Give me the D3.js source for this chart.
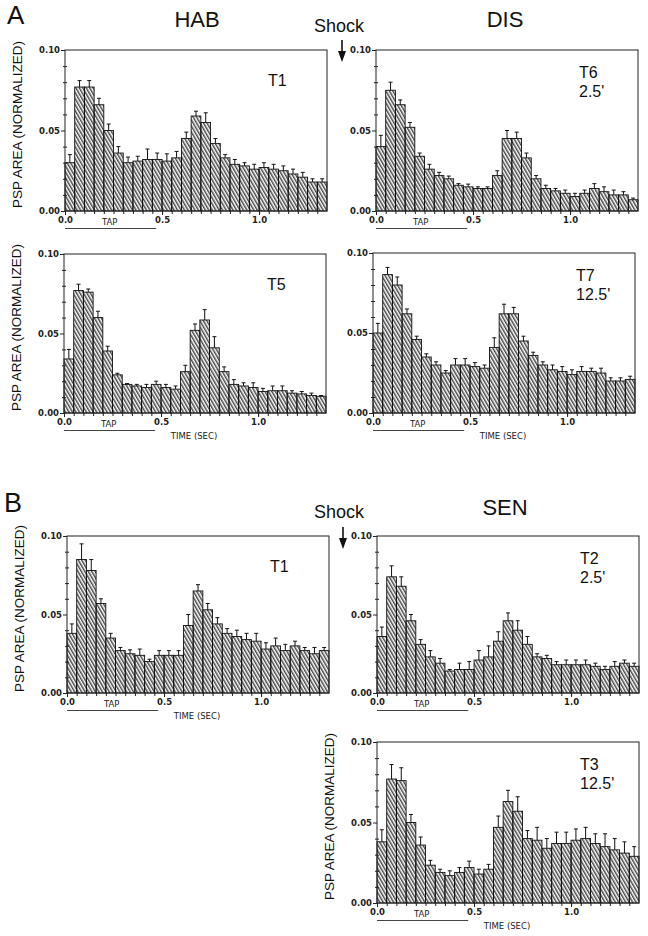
<!DOCTYPE html>
<html>
<head>
<meta charset="utf-8">
<script src="https://cdn.jsdelivr.net/npm/d3@7"></script>
<style>
  body { margin: 0; background: #fff; }
  svg { display: block; }
</style>
</head>
<body>
<div id="chart"></div>
<script>
// Time bins (start of each 50 ms bin, in sec)
var binStart = [0.00,0.05,0.10,0.15,0.20,0.25,0.30,0.35,0.40,0.45,0.50,0.55,0.60,0.65,
                0.70,0.75,0.80,0.85,0.90,0.95,1.00,1.05,1.10,1.15,1.20,1.25,1.30];
var binWidth = 0.05;
var xTicks = [0.0, 0.5, 1.0];
var yTicks = [0.00, 0.05, 0.10];
var yMinorTicks = [0.01,0.02,0.03,0.04,0.06,0.07,0.08,0.09];

// A - HAB, T1
var habA_T1 = [0.030,0.077,0.077,0.066,0.050,0.036,0.030,0.031,0.032,0.032,0.031,0.033,0.045,0.059,
               0.055,0.042,0.033,0.029,0.028,0.026,0.027,0.026,0.025,0.023,0.021,0.018,0.018];
var habA_T1_se = [0.005,0.004,0.004,0.004,0.004,0.004,0.0035,0.003,0.0065,0.004,0.0045,0.004,0.004,0.003,
                  0.006,0.003,0.002,0.003,0.002,0.003,0.003,0.003,0.003,0.003,0.003,0.002,0.002];
// A - DIS, T6 (2.5')
var disA_T6 = [0.040,0.075,0.066,0.052,0.034,0.026,0.022,0.020,0.016,0.015,0.014,0.014,0.022,0.045,
               0.045,0.033,0.020,0.014,0.0125,0.011,0.009,0.011,0.014,0.012,0.010,0.010,0.007];
var disA_T6_se = [0.007,0.005,0.003,0.003,0.002,0.003,0.002,0.0017,0.001,0.0017,0.001,0.001,0.003,0.005,
                  0.004,0.003,0.002,0.002,0.0015,0.002,0.002,0.002,0.003,0.003,0.003,0.002,0.001];
// A - HAB, T5
var habA_T5 = [0.034,0.077,0.076,0.060,0.039,0.024,0.018,0.017,0.016,0.018,0.016,0.015,0.026,0.052,
               0.0585,0.041,0.026,0.018,0.017,0.016,0.0135,0.014,0.014,0.0125,0.012,0.011,0.0105];
var habA_T5_se = [0.006,0.004,0.002,0.004,0.003,0.001,0.0005,0.001,0.002,0.002,0.002,0.002,0.004,0.004,
                  0.0065,0.007,0.003,0.003,0.002,0.003,0.002,0.003,0.003,0.0015,0.0015,0.0015,0.0005];
// A - DIS, T7 (12.5')
var disA_T7 = [0.050,0.0865,0.080,0.062,0.046,0.035,0.030,0.025,0.030,0.030,0.029,0.028,0.041,0.062,
               0.062,0.045,0.036,0.030,0.027,0.026,0.024,0.026,0.026,0.025,0.020,0.020,0.021];
var disA_T7_se = [0.006,0.0045,0.005,0.003,0.002,0.002,0.002,0.0015,0.004,0.004,0.0025,0.002,0.006,0.006,
                  0.004,0.003,0.002,0.002,0.003,0.003,0.003,0.003,0.002,0.003,0.002,0.002,0.002];
// B - HAB, T1
var habB_T1 = [0.038,0.085,0.078,0.057,0.035,0.027,0.025,0.024,0.020,0.024,0.024,0.024,0.043,0.065,
               0.053,0.044,0.038,0.036,0.034,0.033,0.028,0.030,0.027,0.030,0.027,0.025,0.027];
var habB_T1_se = [0.006,0.010,0.007,0.003,0.003,0.002,0.0025,0.004,0.0015,0.003,0.003,0.003,0.007,0.004,
                  0.004,0.004,0.003,0.004,0.004,0.005,0.004,0.005,0.004,0.003,0.002,0.004,0.002];
// B - SEN, T2 (2.5')
var senB_T2 = [0.036,0.074,0.068,0.046,0.031,0.023,0.019,0.014,0.015,0.015,0.021,0.023,0.033,0.046,
               0.040,0.031,0.023,0.022,0.018,0.018,0.018,0.018,0.017,0.015,0.017,0.019,0.017];
var senB_T2_se = [0.006,0.007,0.006,0.004,0.003,0.004,0.003,0.001,0.004,0.005,0.006,0.007,0.006,0.005,
                  0.006,0.005,0.002,0.002,0.002,0.003,0.003,0.003,0.002,0.002,0.003,0.002,0.002];
// B - SEN, T3 (12.5')
var senB_T3 = [0.038,0.077,0.076,0.050,0.036,0.0235,0.019,0.017,0.019,0.022,0.018,0.021,0.047,0.063,
               0.057,0.040,0.039,0.034,0.037,0.037,0.039,0.040,0.037,0.035,0.033,0.031,0.029];
var senB_T3_se = [0.0075,0.009,0.008,0.005,0.005,0.003,0.002,0.003,0.003,0.004,0.003,0.003,0.007,0.007,
                  0.009,0.005,0.008,0.006,0.007,0.007,0.007,0.007,0.006,0.008,0.007,0.007,0.006];

// panel placement
var panels = [
  {vals: habA_T1, se: habA_T1_se, x: 65,  y: 50,  w: 262, h: 161, tag: ["T1"],          yLab: true,  timeLab: false},
  {vals: disA_T6, se: disA_T6_se, x: 376, y: 50,  w: 262, h: 161, tag: ["T6", "2.5'"],  yLab: false, timeLab: false},
  {vals: habA_T5, se: habA_T5_se, x: 64,  y: 254, w: 262, h: 159, tag: ["T5"],          yLab: true,  timeLab: true},
  {vals: disA_T7, se: disA_T7_se, x: 373, y: 253, w: 262, h: 160, tag: ["T7", "12.5'"], yLab: false, timeLab: true},
  {vals: habB_T1, se: habB_T1_se, x: 67,  y: 536, w: 262, h: 157, tag: ["T1"],          yLab: true,  timeLab: true},
  {vals: senB_T2, se: senB_T2_se, x: 377, y: 536, w: 262, h: 157, tag: ["T2", "2.5'"],  yLab: false, timeLab: false},
  {vals: senB_T3, se: senB_T3_se, x: 377, y: 742, w: 262, h: 161, tag: ["T3", "12.5'"], yLab: true,  timeLab: true}
];

var sans = "'Liberation Sans', Arial, Helvetica, sans-serif";
var plotter = "'DejaVu Sans', sans-serif";

var svg = d3.select("#chart").append("svg")
    .attr("width", 648)
    .attr("height", 936);

// hatch pattern for the bars
var defs = svg.append("defs");
var hatch = defs.append("pattern")
    .attr("id", "hatch")
    .attr("patternUnits", "userSpaceOnUse")
    .attr("width", 3.0)
    .attr("height", 10)
    .attr("patternTransform", "rotate(-30)");
hatch.append("line")
    .attr("x1", 0.8).attr("y1", -1)
    .attr("x2", 0.8).attr("y2", 11)
    .style("stroke", "#111")
    .style("stroke-width", 1.15);

// big section letters and headings
function label(txt, x, y, size, anchor) {
  svg.append("text")
    .attr("x", x).attr("y", y)
    .attr("text-anchor", anchor || "start")
    .style("font-family", sans)
    .style("font-size", size + "px")
    .style("fill", "#111")
    .text(txt);
}
label("A", 7, 24, 26);
label("B", 4, 512, 27);
label("HAB", 197, 27, 22, "middle");
label("DIS", 505, 27, 22, "middle");
label("SEN", 505, 515, 22, "middle");
label("Shock", 339, 32, 18, "middle");
label("Shock", 339, 518, 18, "middle");

// shock arrows
function arrow(x, y1, y2) {
  svg.append("line")
    .attr("x1", x).attr("y1", y1).attr("x2", x).attr("y2", y2 - 6)
    .style("stroke", "#111").style("stroke-width", 1.6);
  svg.append("path")
    .attr("d", "M" + (x - 4) + "," + (y2 - 11) + "L" + (x + 4) + "," + (y2 - 11) + "L" + x + "," + y2 + "Z")
    .style("fill", "#111");
}
arrow(342, 40, 62);
arrow(343, 527, 549);

panels.forEach(function(p) {
  var x = d3.scaleLinear().domain([0, 1.35]).range([p.x, p.x + p.w]);
  var y = d3.scaleLinear().domain([0, 0.10]).range([p.y + p.h, p.y]);
  var g = svg.append("g");

  //bars
  g.selectAll(".bar")
    .data(p.vals)
    .enter().append("rect")
    .attr("class", "bar")
    .attr("x", function(d, i) { return x(binStart[i]); })
    .attr("width", function(d, i) { return x(binStart[i] + binWidth) - x(binStart[i]); })
    .attr("y", function(d) { return y(d); })
    .attr("height", function(d) { return y(0) - y(d); })
    .style("fill", "url(#hatch)")
    .style("stroke", "#111")
    .style("stroke-width", 0.9);

  //error bars
  var err = g.selectAll(".err")
    .data(p.vals)
    .enter().append("g")
    .attr("class", "err");
  err.append("line")
    .attr("x1", function(d, i) { return x(binStart[i] + binWidth / 2); })
    .attr("x2", function(d, i) { return x(binStart[i] + binWidth / 2); })
    .attr("y1", function(d) { return y(d); })
    .attr("y2", function(d, i) { return y(d + p.se[i]); })
    .style("stroke", "#111").style("stroke-width", 1);
  err.append("line")
    .attr("x1", function(d, i) { return x(binStart[i] + binWidth / 2) - 2; })
    .attr("x2", function(d, i) { return x(binStart[i] + binWidth / 2) + 2; })
    .attr("y1", function(d, i) { return y(d + p.se[i]); })
    .attr("y2", function(d, i) { return y(d + p.se[i]); })
    .style("stroke", "#111").style("stroke-width", 1);

  //frame
  g.append("rect")
    .attr("x", p.x).attr("y", p.y)
    .attr("width", p.w).attr("height", p.h)
    .style("fill", "none")
    .style("stroke", "#222")
    .style("stroke-width", 1);

  //y axis
  g.append("g")
    .attr("transform", "translate(" + p.x + ",0)")
    .call(d3.axisLeft(y).tickValues(yTicks).tickFormat(d3.format(".2f")).tickSize(4).tickPadding(1));
  g.append("g")
    .attr("transform", "translate(" + p.x + ",0)")
    .call(d3.axisLeft(y).tickValues(yMinorTicks).tickFormat("").tickSize(2));
  g.append("g")
    .attr("transform", "translate(" + p.x + ",0)")
    .call(d3.axisRight(y).tickValues(yMinorTicks).tickFormat("").tickSize(2));

  //x axis
  g.append("g")
    .attr("transform", "translate(0," + (p.y + p.h) + ")")
    .call(d3.axisBottom(x).tickValues(xTicks).tickFormat(d3.format(".1f")).tickSize(4).tickPadding(2));
  g.append("g")
    .attr("transform", "translate(0," + (p.y + p.h) + ")")
    .call(d3.axisBottom(x).tickValues(binStart).tickFormat("").tickSize(3));

  g.selectAll(".domain").remove();
  g.selectAll(".tick line").style("stroke", "#222");
  g.selectAll(".tick text")
    .style("font-family", plotter)
    .style("font-size", "8.5px")
    .style("font-weight", "bold")
    .style("fill", "#222");

  //TAP label and stimulus line
  var base = p.y + p.h;
  g.append("text")
    .attr("x", x(0.23)).attr("y", base + 13.5)
    .attr("text-anchor", "middle")
    .style("font-family", plotter).style("font-size", "8.5px").style("fill", "#222")
    .text("TAP");
  g.append("line")
    .attr("x1", x(0)).attr("x2", x(0.47))
    .attr("y1", base + 17.5).attr("y2", base + 17.5)
    .style("stroke", "#444").style("stroke-width", 1);

  if (p.timeLab) {
    g.append("text")
      .attr("x", x(0.67)).attr("y", base + 26)
      .attr("text-anchor", "middle")
      .style("font-family", plotter).style("font-size", "8.5px").style("fill", "#222")
      .text("TIME (SEC)");
  }

  //trial tag
  g.selectAll(".tag")
    .data(p.tag)
    .enter().append("text")
    .attr("class", "tag")
    .attr("x", p.x + 203)
    .attr("y", function(d, i) { return p.tag.length > 1 ? p.y + 28 + i * 19 : p.y + 36; })
    .style("font-family", sans)
    .style("font-size", "16px")
    .style("fill", "#111")
    .text(function(d) { return d; });

  //y label
  if (p.yLab) {
    g.append("text")
      .attr("transform", "translate(" + (p.x - 43) + "," + (p.y + p.h / 2 - 6) + ") rotate(-90)")
      .attr("text-anchor", "middle")
      .style("font-family", sans)
      .style("font-size", "13.5px")
      .style("fill", "#111")
      .text("PSP AREA (NORMALIZED)");
  }
});
</script>
</body>
</html>
